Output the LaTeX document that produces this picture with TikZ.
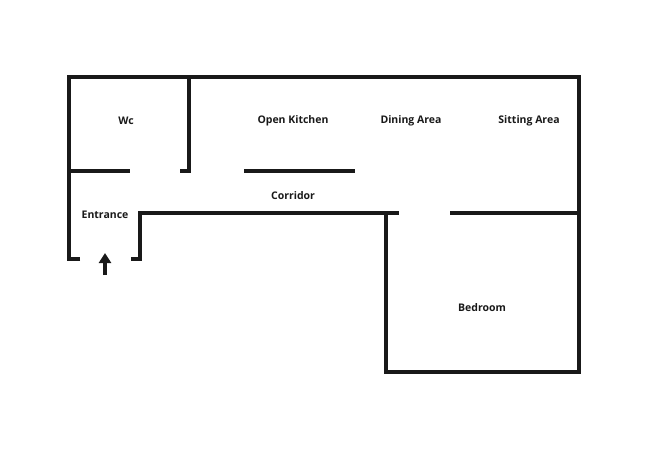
\documentclass[tikz,border=0pt]{standalone}
\usepackage{fontspec}
\setmainfont{Open Sans}
\usetikzlibrary{arrows.meta}
\tikzset{
  wall/.style={line width=3.2pt, line join=miter, color=black!90},
  room/.style={font=\bfseries\fontsize{10.5}{12}\selectfont, color=black!90, yshift=-1.5pt},
}
\begin{document}
\begin{tikzpicture}[x=1pt, y=-1pt]
		%%%%% START %%%%%
		\useasboundingbox (0, 0) rectangle (650, 450);
		
		% outer walls
		\draw[wall] (80, 259) -- (69, 259) -- (69, 77) -- (579, 77) -- (579, 372) -- (386, 372) -- (386, 213);
		
		% wc
		\draw[wall] (189, 77) -- (189, 171) -- (180, 171);
		\draw[wall] (69, 171) -- (130, 171);
		
		% entrance and corridor
		\draw[wall] (131, 259) -- (140, 259) -- (140, 213) -- (399, 213);
		\draw[wall] (450, 213) -- (579, 213);
		
		% kitchen counter
		\draw[wall] (244, 171) -- (355, 171);
		
		% entry arrow
		\coordinate (in) at (105, 275);
		\coordinate (door) at (105, 253);
		\draw[line width=3.5pt, color=black!90, -{Triangle[width=12pt, length=10pt]}] (in) -- (door);
		
		% rooms
		\node[room] (wc) at (126, 119) {Wc};
		\node[room] (kitchen) at (293, 119) {Open Kitchen};
		\node[room] (dining) at (411, 119) {Dining Area};
		\node[room] (sitting) at (529, 119) {Sitting Area};
		\node[room] (corridor) at (293, 194) {Corridor};
		\node[room] (entrance) at (105, 213) {Entrance};
		\node[room] (bedroom) at (482, 306) {Bedroom};
		
		%%%%% END %%%%%
\end{tikzpicture}
\end{document}
